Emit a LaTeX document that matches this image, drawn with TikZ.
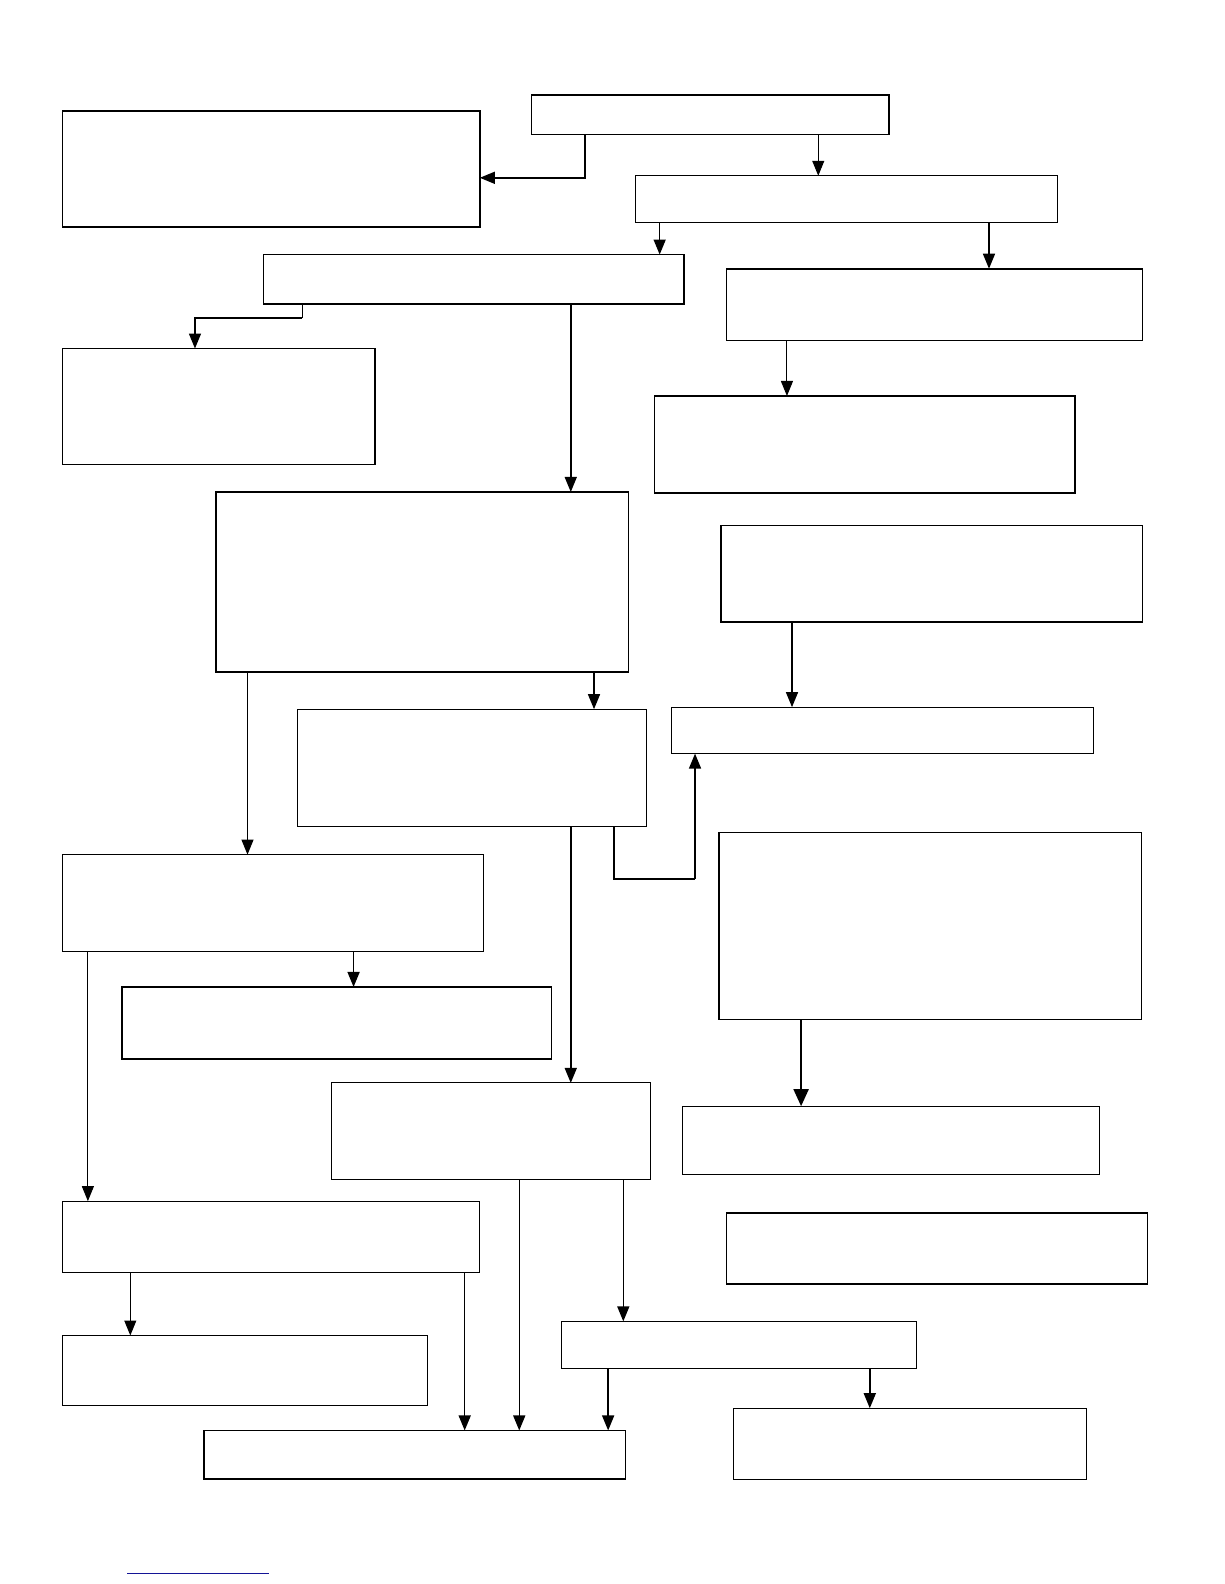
\documentclass[tikz,border=0pt]{standalone}
\usetikzlibrary{arrows.meta,fit,calc}
\definecolor{linkblue}{RGB}{20,20,150}
\tikzset{
  boxthick/.style={draw=black, line width=1.6pt, inner sep=0pt, outer sep=0pt, rectangle},
  boxthin/.style={draw=black, line width=1.0pt, inner sep=0pt, outer sep=0pt, rectangle},
  arr/.style={line width=1.5pt, -{Triangle[width=12pt,length=15pt]}},
  arrthin/.style={line width=1.0pt, -{Triangle[width=12pt,length=15pt]}},
  plain/.style={line width=1.5pt}
}
\begin{document}
\begin{tikzpicture}[x=1.0099pt,y=-1.0099pt]
\useasboundingbox[fill=white] (0,0) rectangle (1212,1568);
% boxes
\node[boxthick, fit={(526,94) (880,133)}] (b1) {};
\node[boxthick, fit={(62,110) (475,225)}] (b2) {};
\node[boxthin,  fit={(629,174) (1047,220)}] (b3) {};
\node[boxthick, fit={(261,252) (677,301)}] (b4) {};
\node[boxthick, fit={(719,266) (1131,337)}] (b5) {};
\node[boxthick, fit={(62,345) (371,460)}] (b6) {};
\node[boxthick, fit={(648,392) (1064,488)}] (b7) {};
\node[boxthick, fit={(214,487) (622,665)}] (b8) {};
\node[boxthick, fit={(714,520) (1131,616)}] (b9) {};
\node[boxthin,  fit={(665,700) (1082,746)}] (b10) {};
\node[boxthin,  fit={(294,702) (640,818)}] (b11) {};
\node[boxthin,  fit={(62,846) (479,942)}] (b12) {};
\node[boxthick, fit={(712,824) (1130,1009)}] (b13) {};
\node[boxthick, fit={(121,977) (546,1048)}] (b14) {};
\node[boxthin,  fit={(328,1072) (644,1168)}] (b15) {};
\node[boxthin,  fit={(676,1095) (1088,1163)}] (b16) {};
\node[boxthin,  fit={(62,1189) (475,1260)}] (b17) {};
\node[boxthick, fit={(719,1201) (1136,1271)}] (b18) {};
\node[boxthin,  fit={(556,1308) (907,1355)}] (b19) {};
\node[boxthin,  fit={(62,1322) (423,1391)}] (b20) {};
\node[boxthick, fit={(202,1416) (619,1464)}] (b21) {};
\node[boxthin,  fit={(726,1394) (1076,1465)}] (b22) {};
% connectors
\draw[arr] (b1.south -| 579,0) |- (b2.east |- 0,176);
\draw[arrthin] (b1.south -| 810,0) -- (b3.north -| 810,0);
\draw[arr] (b3.south -| 653,0) -- (b4.north -| 653,0);
\draw[arr] (b3.south -| 979,0) -- (b5.north -| 979,0);
\draw[plain, line width=1pt] (b4.south -| 299,0) -- (299,315) coordinate (c5);
\draw[arr] (c5) -| (b6.north -| 193,0);
\draw[arr] (b4.south -| 565,0) -- (b8.north -| 565,0);
\draw[arrthin] (b5.south -| 779,0) -- (b7.north -| 779,0);
\draw[arr] (b9.south -| 784,0) -- (b10.north -| 784,0);
\draw[arr] (b8.south -| 588,0) -- (b11.north -| 588,0);
\draw[arrthin] (b8.south -| 245,0) -- (b12.north -| 245,0);
\draw[plain] (b11.south -| 608,0) |- (688,870) coordinate (c11);
\draw[arr] (c11) -- (b10.south -| 688,0);
\draw[arr] (b11.south -| 565,0) -- (b15.north -| 565,0);
\draw[arr] (b12.south -| 350,0) -- (b14.north -| 350,0);
\draw[arrthin] (b12.south -| 87,0) -- (b17.north -| 87,0);
\draw[line width=2pt, -{Triangle[width=15pt,length=17pt]}] (b13.south -| 793,0) -- (b16.north -| 793,0);
\draw[arr] (b15.south -| 514,0) -- (b21.north -| 514,0);
\draw[arr] (b15.south -| 617,0) -- (b19.north -| 617,0);
\draw[arrthin] (b17.south -| 129,0) -- (b20.north -| 129,0);
\draw[arr] (b17.south -| 460,0) -- (b21.north -| 460,0);
\draw[arr] (b19.south -| 602,0) -- (b21.north -| 602,0);
\draw[arr] (b19.south -| 861,0) -- (b22.north -| 861,0);
% footnote rule
\draw[linkblue, line width=1pt] (126,1558) coordinate (f1) -- (266,1558) coordinate (f2);
\end{tikzpicture}
\end{document}
